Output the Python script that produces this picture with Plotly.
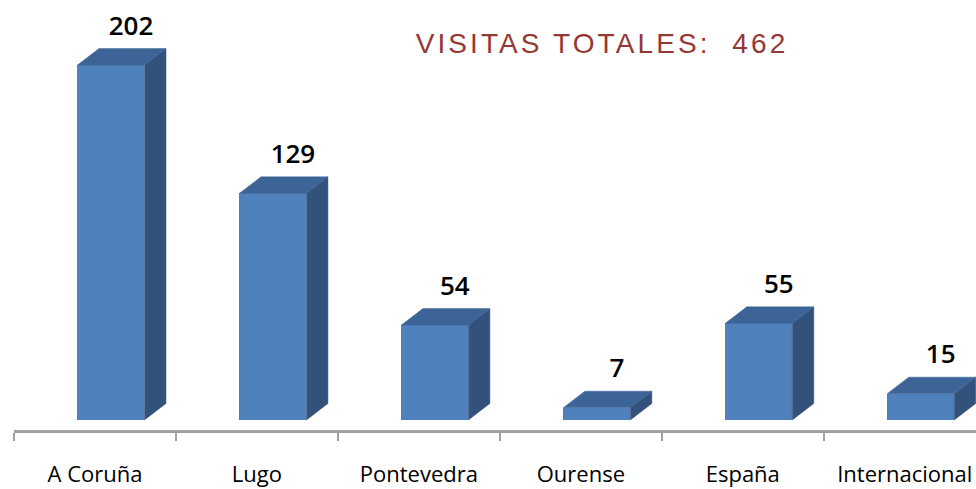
import plotly.graph_objects as go

categories = ["A Coruña", "Lugo", "Pontevedra", "Ourense", "España", "Internacional"]
values = [202, 129, 54, 7, 55, 15]
title_text = "VISITAS TOTALES:  462"

# geometry (in axis units)
PX_PER_CAT = 161.95
PX_PER_UNIT = 1.757
bar_w = 67 / PX_PER_CAT
bar_shift = 16 / PX_PER_CAT
dx = 21.5 / PX_PER_CAT
dy = 16.5 / PX_PER_UNIT
lab_dx = 36 / PX_PER_CAT
lab_dy = 37 / PX_PER_UNIT

FRONT = "#4F81BD"
TOP = "#3C6496"
SIDE = "#32517B"

pos = list(range(len(categories)))

fig = go.Figure()

# front faces
fig.add_trace(go.Bar(
    x=[p + bar_shift for p in pos], y=values, width=bar_w,
    marker=dict(color=FRONT, line=dict(width=0)),
    hoverinfo="skip", showlegend=False,
))

# top faces & side faces
tx, ty, sx, sy = [], [], [], []
for p, v in zip(pos, values):
    xl = p + bar_shift - bar_w / 2
    xr = p + bar_shift + bar_w / 2
    tx += [xl, xr, xr + dx, xl + dx, xl, None]
    ty += [v, v, v + dy, v + dy, v, None]
    sx += [xr, xr, xr + dx, xr + dx, xr, None]
    sy += [0, v, v + dy, dy, 0, None]

fig.add_trace(go.Scatter(x=sx, y=sy, fill="toself", fillcolor=SIDE, mode="lines",
                         line=dict(color=SIDE, width=0.5), hoverinfo="skip", showlegend=False))
fig.add_trace(go.Scatter(x=tx, y=ty, fill="toself", fillcolor=TOP, mode="lines",
                         line=dict(color=TOP, width=0.5), hoverinfo="skip", showlegend=False))

# value labels
fig.add_trace(go.Scatter(
    x=[p + lab_dx for p in pos], y=[v + lab_dy for v in values],
    mode="text", text=[str(v) for v in values],
    textfont=dict(family="Open Sans", size=26, color="#000000", weight=600),
    textposition="middle center", hoverinfo="skip", showlegend=False, cliponaxis=False,
))

fig.update_layout(
    width=976, height=489,
    margin=dict(l=14, r=0, t=0, b=59),
    paper_bgcolor="white", plot_bgcolor="white",
    title=dict(text=title_text, x=602 / 976, y=1 - 43 / 489, xanchor="center", yanchor="middle",
               font=dict(family="Liberation Sans", size=28, color="#953735")),
    xaxis=dict(
        range=[-0.5, 5.44], showgrid=False, zeroline=False,
        showline=True, linecolor="#A0A0A0", linewidth=3,
        tickmode="array", tickvals=pos, ticktext=categories, ticks="",
        ticklabelstandoff=23,
        tickfont=dict(family="Open Sans", size=22, color="#000000"),
        minor=dict(tickmode="array", tickvals=[p - 0.5 for p in pos] + [len(pos) - 0.5],
                   ticks="outside", ticklen=8, tickwidth=2, tickcolor="#A0A0A0", showgrid=False),
    ),
    yaxis=dict(range=[-10 / PX_PER_UNIT, 420 / PX_PER_UNIT], visible=False, showgrid=False, zeroline=False),
    bargap=0,
)

post = """
document.body.style.margin = '0';
document.body.style.overflow = 'hidden';
var t = document.querySelector('.gtitle');
if (t) { t.style.letterSpacing = '3.1px'; }
"""

fig.write_html("out.html", post_script=post, config={"displayModeBar": False})
